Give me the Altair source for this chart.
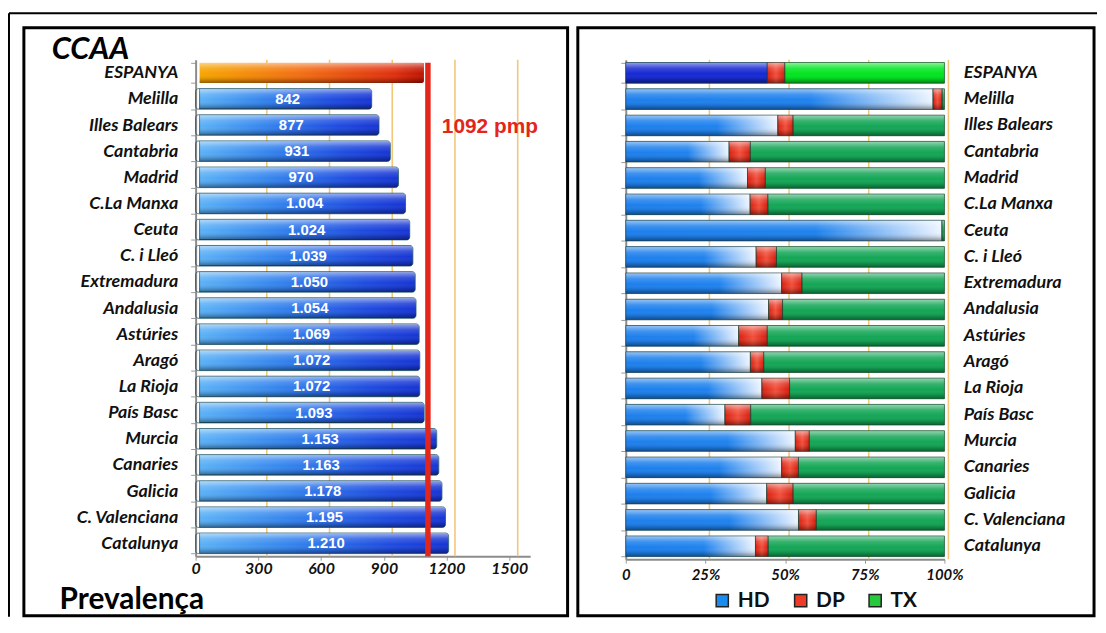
import altair as alt
import pandas as pd

# ---------------- data ----------------
regions = ["ESPANYA", "Melilla", "Illes Balears", "Cantabria", "Madrid", "C.La Manxa",
           "Ceuta", "C. i Lleó", "Extremadura", "Andalusia", "Astúries", "Aragó",
           "La Rioja", "País Basc", "Murcia", "Canaries", "Galicia", "C. Valenciana",
           "Catalunya"]
prevalence = [1092, 842, 877, 931, 970, 1004, 1024, 1039, 1050, 1054, 1069, 1072,
              1072, 1093, 1153, 1163, 1178, 1195, 1210]
hd_pct = [44.4, 96.4, 47.7, 32.4, 38.2, 39.0, 99.2, 40.9, 48.9, 44.8, 35.4, 39.1,
          42.7, 31.1, 53.2, 48.9, 44.2, 54.2, 40.7]
dp_pct = [5.5, 2.9, 4.8, 6.7, 5.6, 5.6, 0.0, 6.4, 6.4, 4.4, 9.0, 4.2,
          8.7, 8.1, 4.4, 5.3, 8.3, 5.6, 4.0]
tx_pct = [50.1, 0.7, 47.5, 60.9, 56.2, 55.4, 0.8, 52.7, 44.7, 50.8, 55.6, 56.7,
          48.6, 60.8, 42.4, 45.8, 47.5, 40.2, 55.3]
segments = ["HD", "DP", "TX"]
segment_colors = ["#1a8cf0", "#f03a28", "#28c83c"]
x_ticks_left = [0, 300, 600, 900, 1200, 1500]
x_ticks_right = [0, 25, 50, 75, 100]
grid_left = [300, 600, 900, 1200, 1500]
grid_right = [25, 50, 75, 100]
espanya_value = 1092
title_left = "CCAA"
footer_left = "Prevalença"
total_label = "ESPANYA"

# ---------------- tables ----------------
left_df = pd.DataFrame({"region": regions, "value": prevalence})
rows = []
for r, h, d, t in zip(regions, hd_pct, dp_pct, tx_pct):
    s = 0.0
    for seg, v in zip(segments, (h, d, t)):
        if v > 0:
            rows.append({"region": r, "segment": seg, "start": s, "end": s + v})
        s += v
right_df = pd.DataFrame(rows)
gridL_df = pd.DataFrame({"value": grid_left})
gridR_df = pd.DataFrame({"start": grid_right})
ref_df = pd.DataFrame({"value": [espanya_value]})
one = pd.DataFrame({"k": [0]})

W_L, W_R, H, H_R = 337, 321, 500, 503
FONT = "Lato"


def lin(stops, x1=0, y1=0, x2=1, y2=0):
    return alt.Gradient(gradient="linear",
                        stops=[alt.GradientStop(color=c, offset=o) for o, c in stops],
                        x1=x1, y1=y1, x2=x2, y2=y2)


shade = lin([(0, "rgba(255,255,255,0.55)"), (0.28, "rgba(255,255,255,0.15)"),
             (0.55, "rgba(255,255,255,0)"), (0.8, "rgba(0,0,0,0.12)"),
             (1, "rgba(0,0,0,0.42)")], 0, 0, 0, 1)
blue_grad = lin([(0, "#5cb2f7"), (0.35, "#3585ee"), (0.75, "#1f4ce0"), (1, "#1733d2")])
orange_grad = lin([(0, "#f7a600"), (0.45, "#f36d12"), (0.85, "#e0300e"), (1, "#b81000")])
hd_grad = lin([(0, "#1d7fec"), (0.6, "#1f82ee"), (1, "#eef5ff")])
dp_grad = lin([(0, "#d8200f"), (0.5, "#f2503c"), (1, "#d41d0e")])

band = alt.Scale(domain=regions, paddingInner=0.214, paddingOuter=0.1)
xsL = alt.Scale(domain=[0, 1600], nice=False, zero=True)
xsR = alt.Scale(domain=[0, 100], nice=False)

lab = dict(labelFont=FONT, labelFontWeight="bold", labelFontStyle="italic", labelColor="#111")

axYL = alt.Axis(title=None, domain=True, domainColor="#8c8c8c", domainWidth=2,
                ticks=True, tickBand="extent", tickSize=5, tickColor="#9a9a9a",
                labelPadding=13, labelFontSize=18, **lab)
axXL = alt.Axis(title=None, values=x_ticks_left, format="d", domainColor="#8c8c8c",
                domainWidth=2, tickSize=4, tickColor="#9a9a9a", labelPadding=0,
                labelFontSize=16, labelFlush=False, labelOverlap=False, grid=False, **lab)
yL = alt.Y("region:N", sort=regions, scale=band, axis=axYL)
xL = alt.X("value:Q", scale=xsL, axis=axXL)

base_L = alt.Chart(left_df)

gridL = alt.Chart(gridL_df).mark_rule(color="#f3c77a", strokeWidth=1.6, xOffset=8.5).encode(
    x=xL, y=alt.value(0), y2=alt.value(H))

barsL = base_L.transform_filter(alt.datum.region != total_label).mark_bar(
    fill=blue_grad, stroke="#1d5566", strokeWidth=0.8, xOffset=4, cornerRadius=3
).encode(x=xL, y=yL)

espL = base_L.transform_filter(alt.datum.region == total_label).mark_bar(
    fill=orange_grad, xOffset=4, cornerRadius=2).encode(x=xL, y=yL)

shadeL = base_L.mark_bar(fill=shade, xOffset=4, cornerRadius=3).encode(x=xL, y=yL)

textL = base_L.transform_filter(alt.datum.region != total_label).transform_calculate(
    mid="datum.value / 2",
    lbl="replace(format(datum.value, ','), ',', '.')"
).mark_text(font="Liberation Sans", fontSize=15, fontWeight="bold", color="white",
            baseline="middle", align="center", dx=4).encode(
    x=alt.X("mid:Q", scale=xsL, axis=axXL), y=yL, text="lbl:N")

redL = alt.Chart(ref_df).mark_rule(color="#e4261a", strokeWidth=5.5, xOffset=4).encode(
    x=xL, y=alt.value(3), y2=alt.value(H))

redTxt = alt.Chart(ref_df).transform_calculate(lbl="datum.value + ' pmp'").mark_text(
    font="Liberation Sans", fontSize=21, fontWeight="bold", color="#e4261a",
    align="left", baseline="middle", dx=18).encode(
    x=xL, y=alt.value(68), text="lbl:N")

frameL = alt.Chart(one).mark_rect(fillOpacity=0, stroke="black", strokeWidth=3).encode(
    x=alt.value(-173), x2=alt.value(374.7), y=alt.value(-32.3), y2=alt.value(560))
outerV = alt.Chart(one).mark_rule(color="black", strokeWidth=2).encode(
    x=alt.value(-188), y=alt.value(-47), y2=alt.value(561))
outerH = alt.Chart(one).mark_rule(color="black", strokeWidth=2).encode(
    x=alt.value(-188), x2=alt.value(908), y=alt.value(-47))
ccaa = alt.Chart(one).mark_text(font=FONT, fontSize=31, fontStyle="italic", fontWeight="bold",
                                 color="black", align="left", baseline="alphabetic").encode(
    x=alt.value(-145), y=alt.value(-1), text=alt.value(title_left))
prev = alt.Chart(one).mark_text(font=FONT, fontSize=30, fontWeight="bold",
                                 color="black", align="left", baseline="alphabetic").encode(
    x=alt.value(-137), y=alt.value(553), text=alt.value(footer_left))

left = alt.layer(gridL, barsL, espL, shadeL, textL, redL, redTxt,
                 frameL, outerV, outerH, ccaa, prev).properties(width=W_L, height=H)

# ---------------- right panel ----------------
base_R = alt.Chart(right_df)
axXR = alt.Axis(title=None, values=x_ticks_right, domainColor="#8c8c8c", domainWidth=2,
                tickSize=4, tickColor="#9a9a9a", labelPadding=4, labelFontSize=15,
                labelFlush=False, labelOverlap=False, grid=False,
                labelExpr="datum.value == 0 ? '0' : datum.value + '%'", **lab)
xR = alt.X("start:Q", scale=xsR, axis=axXR)
yR_left = alt.Y("region:N", sort=regions, scale=band,
                axis=alt.Axis(title=None, orient="left", labels=False, domain=True,
                              domainColor="#8c8c8c", domainWidth=2, ticks=True,
                              tickBand="extent", tickSize=5, tickColor="#9a9a9a"))
yR_right = alt.Y("region:N", sort=regions, scale=band,
                 axis=alt.Axis(title=None, orient="right", domain=False, ticks=False,
                               labelPadding=19, labelFontSize=18, **lab))
yR_none = alt.Y("region:N", sort=regions, scale=band, axis=None)

gridR = alt.Chart(gridR_df).mark_rule(color="#f3c77a", strokeWidth=1.6, xOffset=4).encode(
    x=xR, y=alt.value(0), y2=alt.value(H_R))

baseBars = base_R.mark_bar().encode(
    x=xR, x2="end:Q", y=yR_left,
    color=alt.Color("segment:N",
                    scale=alt.Scale(domain=segments, range=segment_colors),
                    legend=alt.Legend(title=None, orient="none", legendX=520, legendY=534,
                                      direction="horizontal", symbolType="square",
                                      symbolSize=150, symbolStrokeColor="#222",
                                      symbolStrokeWidth=1.5, symbolOpacity=1,
                                      labelFont=FONT, labelFontSize=21,
                                      labelFontWeight="bold", labelColor="#111",
                                      labelOffset=5, columnPadding=20)))

is_tot = alt.datum.region == total_label
not_tot = alt.datum.region != total_label

hdO = base_R.transform_filter((alt.datum.segment == "HD") & not_tot).mark_bar(fill=hd_grad).encode(
    x=xR, x2="end:Q", y=yR_none)
hdE = base_R.transform_filter((alt.datum.segment == "HD") & is_tot).mark_bar(fill="#1629d2").encode(
    x=xR, x2="end:Q", y=yR_none)
dpA = base_R.transform_filter(alt.datum.segment == "DP").mark_bar(fill=dp_grad).encode(
    x=xR, x2="end:Q", y=yR_none)
txO = base_R.transform_filter((alt.datum.segment == "TX") & not_tot).mark_bar(fill="#14a656").encode(
    x=xR, x2="end:Q", y=yR_right)
txE = base_R.transform_filter((alt.datum.segment == "TX") & is_tot).mark_bar(fill="#02e521").encode(
    x=xR, x2="end:Q", y=yR_none)
shadeR = base_R.mark_bar(fill=shade, stroke="#1c3d30", strokeWidth=0.6).encode(
    x=xR, x2="end:Q", y=yR_none)

frameR = alt.Chart(one).mark_rect(fillOpacity=0, stroke="black", strokeWidth=3).encode(
    x=alt.value(-48.3), x2=alt.value(471.7), y=alt.value(-32.3), y2=alt.value(560))

right = alt.layer(gridR, baseBars, hdO, hdE, dpA, txO, txE, shadeR, frameR).resolve_axis(
    y="independent").properties(width=W_R, height=H_R)

chart = alt.hconcat(left, right, spacing=96.3, bounds="flush").properties(
    padding={"left": 0, "top": 2, "right": 0, "bottom": 0},
    background="white"
).configure_view(stroke=None)

chart.save("out.html", embed_options={"renderer": "svg", "actions": False})
